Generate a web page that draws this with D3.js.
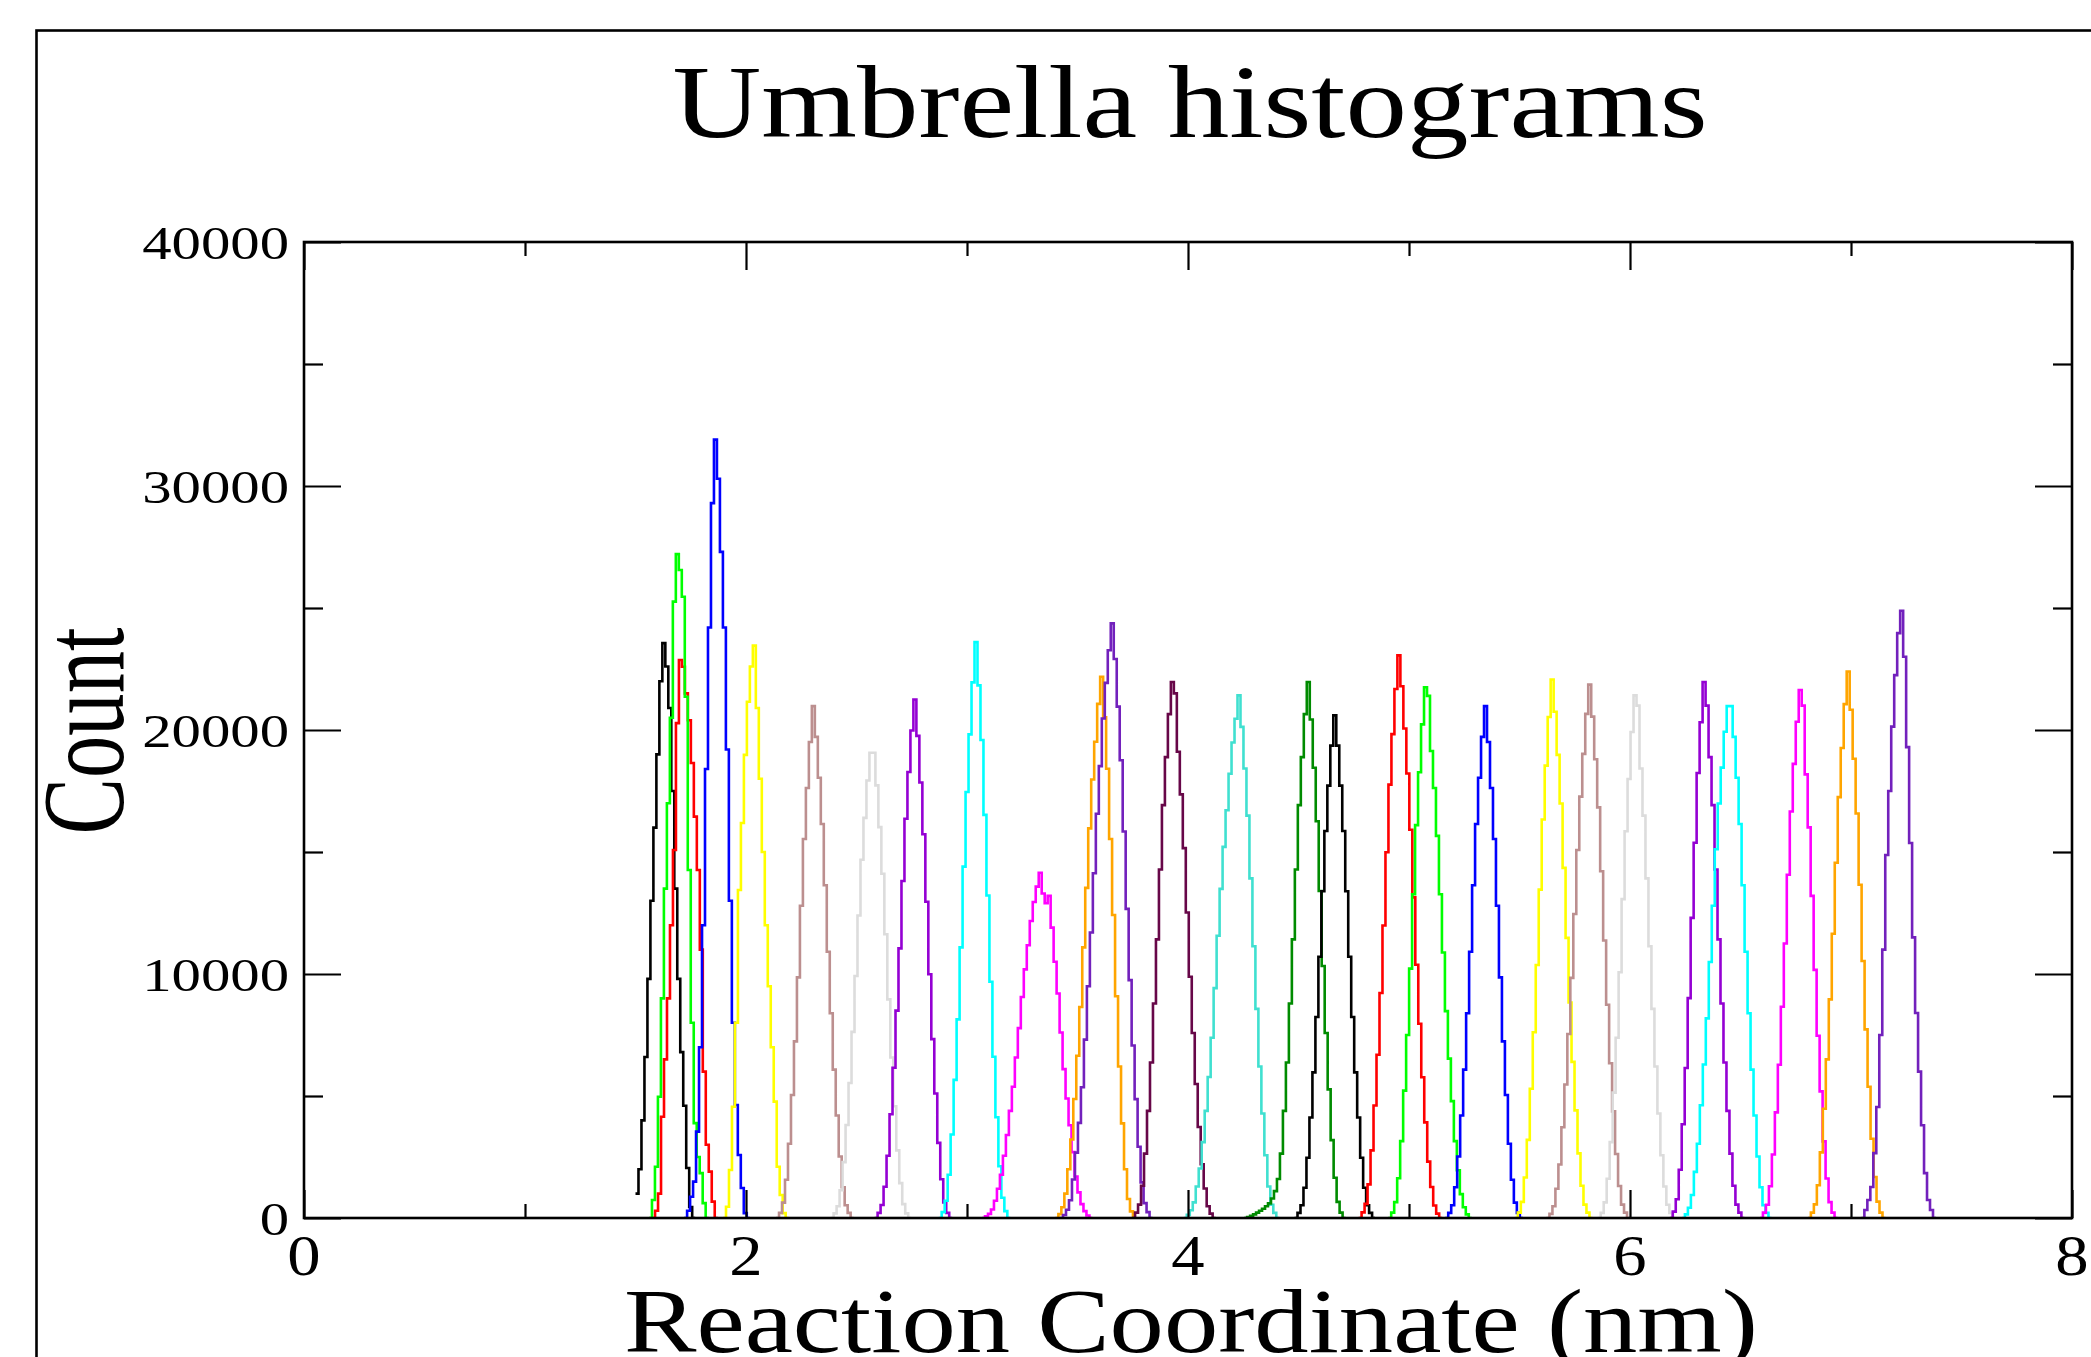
<!DOCTYPE html>
<html><head><meta charset="utf-8">
<script src="https://cdn.jsdelivr.net/npm/d3@7"></script>
<style>html,body{margin:0;padding:0;background:#fff}svg{display:block}</style>
</head><body>
<svg id="chart" width="2091" height="1357"></svg>
<script>
// ---------- data ----------
const chartTitle = "Umbrella histograms";
const xLabel = "Reaction Coordinate (nm)";
const yLabel = "Count";
const xTicks = [0, 2, 4, 6, 8];
const xMinorTicks = [1, 3, 5, 7];
const yTicks = [0, 10000, 20000, 30000, 40000];
const yMinorTicks = [5000, 15000, 25000, 35000];
const binWidth = 0.0135; // nm
const seriesColors = ["#000000","#ff0000","#00ff00","#0000ff","#ffff00","#bc8f8f","#dcdcdc","#9400d3","#00ffff","#ff00ff","#ffa500","#7221bc","#670748","#40e0d0","#008b00",
                      "#000000","#ff0000","#00ff00","#0000ff","#ffff00","#bc8f8f","#dcdcdc","#9400d3","#00ffff","#ff00ff","#ffa500","#7221bc"];
const seriesStart = [1.500,1.575,1.561,1.720,1.896,2.136,2.383,2.582,2.872,3.068,3.400,3.421,3.747,3.981,4.254,
                     4.482,4.772,4.906,5.164,5.479,5.622,5.854,6.180,6.235,6.588,6.805,7.047];
const seriesCounts = [
 [1000,2000,4000,6600,9800,13000,16000,19000,22000,23560,22600,20900,17500,13500,9800,6800,4600,2050,450,0],
 [0,300,1000,4150,6500,9000,12000,15080,20280,22870,22590,21500,20400,18650,16450,14260,11000,6000,3000,1900,670,0],
 [0,740,2100,4970,9000,13500,17000,20500,25260,27210,26560,25460,21360,14260,8000,3890,2500,1840,610,0],
 [0,300,870,1490,3540,7000,12000,18400,24200,29300,31900,30300,27300,24200,19200,13000,8000,4630,2580,1230,200,0],
 [0,460,1970,4560,8000,13440,16190,18980,21160,22600,23460,20900,18000,15000,12000,9500,7000,4770,2100,940,200,0],
 [0,210,630,1570,3040,5040,7240,9860,12800,15530,17620,19510,20980,19720,18040,16150,13640,10910,8390,6080,4200,2520,1260,520,210,0],
 [0,190,480,1140,2290,3810,5530,7630,9920,12400,14680,16400,17930,19070,19070,17730,16020,14110,11630,8960,6580,4580,2770,1430,570,190,0],
 [0,210,530,1280,2550,4250,6160,8500,11050,13810,16360,18280,19980,21250,19760,17850,15730,12960,9990,7330,5100,3080,1590,640,210,0],
 [0,240,710,1770,3420,5660,8140,11090,14400,17460,19820,21950,23600,21830,19590,16520,13220,9680,6610,4130,2120,830,280,0],
 [0,70,170,350,710,1200,1770,2550,3400,4390,5380,6580,7780,9060,10190,11180,12170,12950,13580,14150,13300,12900,13200,11900,10500,9200,7600,6100,4900,3800,2700,1700,1050,570,280,100,0],
 [0,160,440,1000,2000,3220,4880,6650,8650,11090,13530,15970,17970,19520,21070,22180,20520,18410,15530,12420,9090,6210,3880,2000,780,270,0],
 [0,120,340,730,1580,2680,3900,5360,7310,9500,11700,14130,16570,18520,20470,21930,23270,24370,22910,20960,18760,15840,12670,9750,7070,4870,2920,1460,610,240,0],
 [0,220,550,1320,2640,4390,6370,8790,11420,14280,16920,18890,20650,21970,21500,19110,17360,15160,12520,9890,7580,5490,3730,2200,1210,480,180,0],
 [0,130,320,640,1290,2030,3110,4390,5780,7390,9420,11570,13490,15210,16710,18210,19490,20460,21420,20130,18420,16490,13920,11140,8570,6210,4280,2570,1290,540,210,0],
 [0,40,90,150,220,300,380,480,600,800,1100,1600,2640,4390,6370,8790,11420,14280,16920,18890,20650,21970,20430,18450,16260,13400,10330,7580,5270,3190,1650,660,220,0],
 [0,210,520,1240,2470,4120,5970,8240,10710,13390,15860,17720,19360,20600,19360,17720,15860,13390,10710,8240,5970,4120,2470,1240,520,210,0],
 [0,230,580,1380,2770,4610,6690,9220,11990,14990,17760,19830,21680,23060,21790,20060,18220,15910,13140,10380,7960,5770,3920,2310,1270,510,180,0],
 [0,220,650,1630,3150,5220,7500,10220,13270,16100,18270,20230,21750,21400,19140,17620,15660,13270,10880,8480,6530,4790,3150,1960,980,440,150,0],
 [0,210,520,1260,2520,4200,6080,8390,10910,13640,16150,18040,19720,20980,19510,17620,15530,12800,9860,7240,5040,3040,1570,630,210,0],
 [0,220,660,1660,3200,5300,7610,10370,13460,16330,18540,20530,22070,20750,18980,16990,14350,11480,8830,6400,4410,2650,1320,550,220,0],
 [0,170,480,1200,2190,3720,5470,7540,9840,12460,15080,17270,19020,20660,21860,20550,18800,16830,14210,11370,8740,6340,4370,2620,1310,550,220,0],
 [0,210,640,1610,3110,5140,7390,10070,13070,15850,17990,19920,21420,21000,18420,16490,13920,11140,8570,6210,4280,2570,1290,540,210,0],
 [0,260,770,1980,3840,6150,9010,12300,15380,18240,20320,21970,21000,18890,16920,14280,11420,8790,6370,4390,2640,1320,550,220,0],
 [0,150,420,940,1890,3040,4620,6290,8180,10490,12800,15110,16990,18460,19930,20980,20980,19720,18040,16150,13640,10910,8390,6080,4200,2520,1260,520,210,0],
 [0,220,540,1300,2600,4330,6280,8660,11250,14070,16660,18610,20340,21640,21000,18180,16010,13200,10170,7470,5190,3140,1620,650,220,0],
 [0,220,560,1340,2690,4480,6500,8960,11650,14560,17250,19260,21060,22400,20830,18820,16580,13660,10530,7730,5380,3250,1680,670,220,0],
 [0,330,740,1270,2660,4550,7500,11000,14880,17500,20140,22250,23970,24890,23000,19300,15370,11500,8400,6000,3800,1840,740,330,0]
];

// ---------- layout ----------
const W = 2091, H = 1357;
const plot = {left: 304, right: 2072, top: 242, bottom: 1218};
const FONT = "'Liberation Serif','Times New Roman',Times,serif";

const svg = d3.select("#chart");
svg.append("rect").attr("width", W).attr("height", H).attr("fill", "#fff");

// outer page frame (extends beyond the canvas)
svg.append("rect").attr("x", 36.5).attr("y", 30.5).attr("width", 2200).attr("height", 1500)
  .attr("fill", "none").attr("stroke", "#000").attr("stroke-width", 2.6);

const x = d3.scaleLinear().domain([0, 8]).range([plot.left, plot.right]);
const y = d3.scaleLinear().domain([0, 40000]).range([plot.bottom, plot.top]);

// clip
svg.append("clipPath").attr("id", "clip").append("rect")
  .attr("x", plot.left).attr("y", plot.top - 2)
  .attr("width", plot.right - plot.left).attr("height", plot.bottom - plot.top + 2);

// series
const line = d3.line().x(d => x(d[0])).y(d => y(d[1])).curve(d3.curveStepAfter);
const gS = svg.append("g").attr("clip-path", "url(#clip)");
seriesCounts.forEach((counts, i) => {
  const pts = counts.map((c, k) => [seriesStart[i] + k * binWidth, c]);
  pts.push([seriesStart[i] + counts.length * binWidth, counts[counts.length - 1]]);
  gS.append("path").datum(pts).attr("d", line)
    .attr("fill", "none").attr("stroke", seriesColors[i])
    .attr("stroke-width", 2.6).attr("stroke-linejoin", "miter");
});

// axes ticks (inside, mirrored)
function tickAxis(gen, scale, vals, size, tx, ty) {
  const g = svg.append("g").attr("transform", `translate(${tx},${ty})`)
    .call(gen(scale).tickValues(vals).tickSizeInner(size).tickSizeOuter(0).tickFormat(""));
  g.select(".domain").remove();
  g.selectAll(".tick line").attr("stroke", "#000").attr("stroke-width", 2.2);
  return g;
}
tickAxis(d3.axisBottom, x, xTicks, -28, 0, plot.bottom);
tickAxis(d3.axisBottom, x, xMinorTicks, -14, 0, plot.bottom);
tickAxis(d3.axisTop, x, xTicks, -28, 0, plot.top);
tickAxis(d3.axisTop, x, xMinorTicks, -14, 0, plot.top);
tickAxis(d3.axisLeft, y, yTicks, -37, plot.left, 0);
tickAxis(d3.axisLeft, y, yMinorTicks, -19, plot.left, 0);
tickAxis(d3.axisRight, y, yTicks, -37, plot.right, 0);
tickAxis(d3.axisRight, y, yMinorTicks, -19, plot.right, 0);

// frame
svg.append("rect").attr("x", plot.left).attr("y", plot.top)
  .attr("width", plot.right - plot.left).attr("height", plot.bottom - plot.top)
  .attr("fill", "none").attr("stroke", "#000").attr("stroke-width", 2.6);

// tick labels
svg.append("g").selectAll("text").data(xTicks).join("text")
  .attr("transform", d => `translate(${x(d)},1275) scale(1.19,1)`)
  .attr("text-anchor", "middle").attr("font-family", FONT).attr("font-size", 56)
  .attr("fill", "#000").text(d => d);
svg.append("g").selectAll("text").data(yTicks).join("text")
  .attr("transform", d => `translate(289,${y(d) + 17}) scale(1.25,1)`)
  .attr("text-anchor", "end").attr("font-family", FONT).attr("font-size", 47)
  .attr("fill", "#000").text(d => d);

// title and axis labels
svg.append("text").attr("x", 1190).attr("y", 137).attr("text-anchor", "middle")
  .attr("font-family", FONT).attr("font-size", 103)
  .attr("textLength", 1035).attr("lengthAdjust", "spacingAndGlyphs").text(chartTitle);
svg.append("text").attr("x", 1191).attr("y", 1352).attr("text-anchor", "middle")
  .attr("font-family", FONT).attr("font-size", 92)
  .attr("textLength", 1134).attr("lengthAdjust", "spacingAndGlyphs").text(xLabel);
svg.append("text").attr("transform", "translate(123,731) rotate(-90)").attr("text-anchor", "middle")
  .attr("font-family", FONT).attr("font-size", 116)
  .attr("textLength", 207).attr("lengthAdjust", "spacingAndGlyphs").text(yLabel);
</script>
</body></html>
